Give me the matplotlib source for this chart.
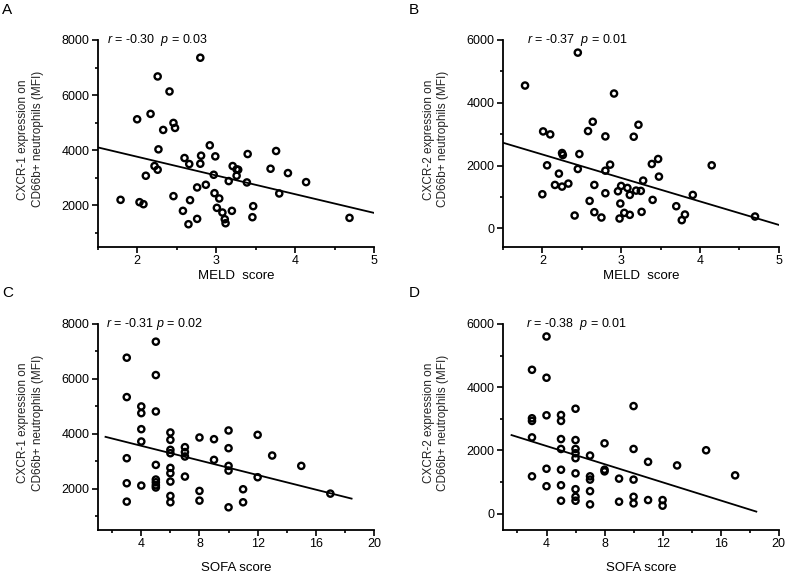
import matplotlib
matplotlib.use("Agg")
import matplotlib.pyplot as plt
from matplotlib.ticker import MultipleLocator

plt.rcParams["font.family"] = ["Liberation Sans", "DejaVu Sans"]
plt.rcParams["mathtext.fontset"] = "custom"
plt.rcParams["mathtext.rm"] = "Liberation Sans"
plt.rcParams["mathtext.it"] = "Liberation Sans:italic"

# Panel A: MELD score vs CXCR-1
meld_a = [2.00, 2.17, 2.26, 2.41, 2.80, 2.46, 2.48, 2.33, 2.27, 2.22, 2.26, 2.11,
          1.79, 2.03, 2.08, 2.46, 2.60, 2.66, 2.81, 2.80, 2.92, 2.99, 2.97, 2.87,
          2.76, 2.67, 2.58, 2.65, 2.76, 2.98, 3.04, 3.01, 3.08, 3.11, 3.12, 3.20,
          3.16, 3.21, 3.26, 3.28, 3.26, 3.39, 3.40, 3.47, 3.46, 3.69, 3.76, 3.80,
          3.91, 4.14, 4.69]
cxcr1_a = [5120, 5316, 6676, 6130, 7356, 4988, 4806, 4733, 4028, 3421, 3288, 3069,
           2194, 2109, 2036, 2328, 3713, 3494, 3798, 3506, 4174, 3773, 3105, 2741,
           2644, 2182, 1794, 1308, 1502, 2437, 2243, 1903, 1733, 1490, 1344, 1794,
           2875, 3421, 3300, 3288, 3069, 2826, 3858, 1964, 1563, 3324, 3968, 2425,
           3166, 2838, 1539]
fit_a_x = [1.5, 5.0]
fit_a_y = [4100, 1720]

# Panel B: MELD score vs CXCR-2
meld_b = [1.78, 2.45, 2.91, 2.01, 2.10, 2.64, 2.58, 2.80, 3.22, 3.16, 2.06, 2.25,
          2.26, 2.47, 2.21, 2.00, 2.16, 2.25, 2.33, 2.45, 2.41, 2.60, 2.66, 2.66,
          2.75, 2.80, 2.80, 2.86, 2.96, 3.00, 3.08, 3.11, 3.19, 3.25, 3.28, 2.99,
          2.98, 3.04, 3.11, 3.26, 3.40, 3.39, 3.47, 3.48, 3.70, 3.77, 3.81, 3.91,
          4.15, 4.70]
cxcr2_b = [4550, 5598, 4296, 3090, 2995, 3397, 3101, 2931, 3302, 2921, 2011, 2402,
           2339, 2370, 1746, 1090, 1386, 1333, 1429, 1894, 413, 878, 1386, 519,
           349, 1122, 1841, 2032, 1185, 1354, 1291, 1069, 1206, 1196, 1524, 794,
           317, 497, 434, 529, 910, 2053, 2212, 1651, 709, 265, 444, 1069,
           2011, 381]
fit_b_x = [1.5, 5.0]
fit_b_y = [2730, 116]

# Panel C: SOFA score vs CXCR-1
sofa_c = [3, 3, 3, 3, 3,
          4, 4, 4, 4, 4,
          5, 5, 5, 5, 5, 5, 5, 5,
          6, 6, 6, 6, 6, 6, 6, 6, 6,
          7, 7, 7, 7,
          8, 8, 8,
          9, 9,
          10, 10, 10, 10, 10,
          11, 11,
          12, 12,
          13, 15, 17]
cxcr1_c = [6771, 5335, 3107, 2195, 1525,
           4994, 4750, 4166, 3716, 2110,
           7355, 6138, 4811, 2864, 2330, 2230, 2120, 2040,
           4045, 3777, 3412, 3290, 2755, 2560, 2256, 1732, 1501,
           3510, 3330, 3170, 2438,
           3862, 1915, 1562,
           3801, 3047,
           4118, 3473, 2828, 2657, 1318,
           1976, 1501,
           3959, 2414,
           3205, 2828, 1817]
fit_c_x = [1.54, 18.46]
fit_c_y = [3886, 1635]

# Panel D: SOFA score vs CXCR-2
sofa_d = [3, 3, 3, 3, 3,
          4, 4, 4, 4, 4,
          5, 5, 5, 5, 5, 5, 5,
          6, 6, 6, 6, 6, 6, 6, 6, 6,
          7, 7, 7, 7, 7,
          8, 8, 8,
          9, 9,
          10, 10, 10, 10, 10,
          11, 11,
          12, 12,
          13, 15, 17]
cxcr2_d = [4550, 3016, 2932, 2411, 1179,
           5604, 4299, 3110, 1419, 866,
           3120, 2932, 2358, 2045, 1388, 897, 407,
           3318, 2327, 2045, 1910, 1753, 1273, 772, 532, 407,
           1837, 1179, 1075, 710, 292,
           2223, 1388, 1336,
           1106, 376,
           3402, 2045, 1075, 532, 323,
           1638, 428,
           428, 250,
           1524, 2004, 1210]
fit_d_x = [1.59, 18.46]
fit_d_y = [2484, 63]

ylab1 = "CXCR-1 expression on\nCD66b+ neutrophils (MFI)"
ylab2 = "CXCR-2 expression on\nCD66b+ neutrophils (MFI)"

panels = [
    ("A", meld_a, cxcr1_a, fit_a_x, fit_a_y, r"$\mathit{r}$ = -0.30  $\mathit{p}$ = 0.03",
     "MELD  score", ylab1, (1.5, 5), (480, 8000), 1, 0.5, 2000, 1000),
    ("B", meld_b, cxcr2_b, fit_b_x, fit_b_y, r"$\mathit{r}$ = -0.37  $\mathit{p}$ = 0.01",
     "MELD  score", ylab2, (1.5, 5), (-590, 6000), 1, 0.5, 2000, 1000),
    ("C", sofa_c, cxcr1_c, fit_c_x, fit_c_y, r"$\mathit{r}$ = -0.31 $\mathit{p}$ = 0.02",
     "SOFA score", ylab1, (1, 20), (490, 8000), 4, 2, 2000, 1000),
    ("D", sofa_d, cxcr2_d, fit_d_x, fit_d_y, r"$\mathit{r}$ = -0.38  $\mathit{p}$ = 0.01",
     "SOFA score", ylab2, (1, 20), (-520, 6000), 4, 2, 2000, 1000),
]

fig = plt.figure(figsize=(7.87, 5.73), dpi=100)
rects = [
    [0.1241, 0.5689, 0.3511, 0.3613],
    [0.6391, 0.5689, 0.3503, 0.3613],
    [0.1241, 0.0750, 0.3511, 0.3596],
    [0.6391, 0.0750, 0.3503, 0.3596],
]
text_x = [0.034, 0.087, 0.030, 0.085]
letter_pos = [(0.003, 1 - 14 / 573), (0.520, 1 - 14 / 573),
              (0.003, 1 - 297 / 573), (0.520, 1 - 297 / 573)]
xlab_y = [-0.11, -0.11, -0.155, -0.155]

for i, (letter, xs, ys, fx, fy, stat, xlab, ylab, xl, yl, xmaj, xmin, ymaj, ymin) in enumerate(panels):
    ax = fig.add_axes(rects[i])
    ax.scatter(xs, ys, s=20, facecolors="none", edgecolors="black", linewidths=1.7, zorder=3)
    ax.plot(fx, fy, color="black", lw=1.3)
    ax.set_xlim(*xl)
    ax.set_ylim(*yl)
    ax.xaxis.set_major_locator(MultipleLocator(xmaj))
    ax.xaxis.set_minor_locator(MultipleLocator(xmin))
    ax.yaxis.set_major_locator(MultipleLocator(ymaj))
    ax.yaxis.set_minor_locator(MultipleLocator(ymin))
    for side in ("top", "right"):
        ax.spines[side].set_visible(False)
    for side in ("left", "bottom"):
        ax.spines[side].set_linewidth(1.3)
    ax.tick_params(which="major", direction="out", length=4, width=1.2, labelsize=9, pad=2)
    ax.tick_params(which="minor", direction="out", length=2.5, width=1.2)
    ax.set_xlabel(xlab, fontsize=9.5)
    ax.xaxis.set_label_coords(0.5, xlab_y[i])
    ax.set_ylabel(ylab, fontsize=8.5, color="#222222", linespacing=1.3)
    ax.yaxis.set_label_coords(-0.195, 0.52)
    ax.text(text_x[i], 1.0, stat, transform=ax.transAxes, fontsize=9, va="center", ha="left")
    fig.text(letter_pos[i][0], letter_pos[i][1], letter, fontsize=11, va="baseline", ha="left")

fig.savefig("out.png", dpi=100)
